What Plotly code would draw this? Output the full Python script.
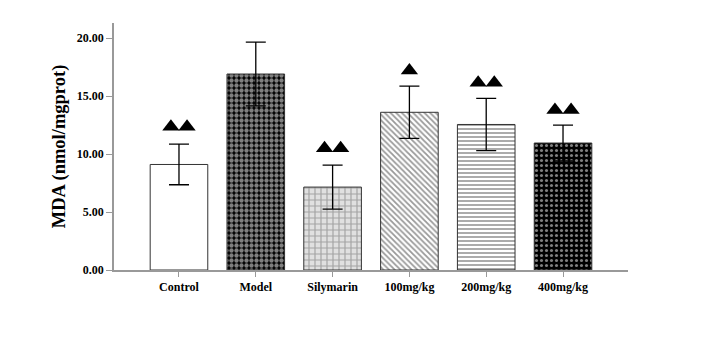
import plotly.graph_objects as go

categories = ["Control", "Model", "Silymarin", "100mg/kg", "200mg/kg", "400mg/kg"]
mda_mean = [9.1, 16.9, 7.15, 13.6, 12.55, 10.95]
mda_sd = [1.75, 2.75, 1.9, 2.25, 2.25, 1.55]
sig_marks = [2, 0, 2, 1, 2, 2]
sig_height = [12.35, 0, 10.5, 17.2, 16.15, 13.8]

patterns = [
    dict(shape="", bgcolor="white"),
    dict(shape=".", fgcolor="white", bgcolor="black", size=5, solidity=0.6),
    dict(shape="+", fgcolor="#666666", bgcolor="#e0e0e0", size=6, solidity=0.35),
    dict(shape="\\", fgcolor="#333333", bgcolor="white", size=4, solidity=0.45),
    dict(shape="-", fgcolor="#444444", bgcolor="white", size=4, solidity=0.45),
    dict(shape=".", fgcolor="white", bgcolor="black", size=5, solidity=0.3),
]

xs = list(range(len(categories)))
fig = go.Figure()
for i in xs:
    fig.add_trace(go.Bar(
        x=[xs[i]], y=[mda_mean[i]], width=0.75,
        marker=dict(color="white", line=dict(color="#333333", width=1), pattern=patterns[i]),
        error_y=dict(type="data", array=[mda_sd[i]], color="black", thickness=1.3, width=10),
        showlegend=False, hoverinfo="skip",
    ))

tx, ty = [], []
off = 0.105
for i in xs:
    n = sig_marks[i]
    if n == 1:
        tx.append(xs[i]); ty.append(sig_height[i])
    elif n == 2:
        tx += [xs[i] - off, xs[i] + off]; ty += [sig_height[i]] * 2
fig.add_trace(go.Scatter(x=tx, y=ty, mode="markers",
                         marker=dict(symbol="triangle-up", size=15, color="black"),
                         showlegend=False, hoverinfo="skip"))

font = "Liberation Serif, Times New Roman, serif"
fig.update_layout(
    width=702, height=351,
    margin=dict(l=114, r=74, t=23, b=81),
    paper_bgcolor="white", plot_bgcolor="white",
    barmode="overlay",
    font=dict(family=font, color="black"),
    xaxis=dict(range=[-0.846, 5.846], tickvals=xs, ticktext=[f"<b>{c}</b>" for c in categories],
               showline=True, linecolor="#999999", linewidth=1.5, ticks="outside", ticklen=5,
               tickcolor="#999999", showgrid=False, zeroline=False,
               tickfont=dict(family=font, size=12, color="black")),
    yaxis=dict(range=[0, 21.3], tickvals=[0, 5, 10, 15, 20],
               ticktext=["<b>0.00</b>", "<b>5.00</b>", "<b>10.00</b>", "<b>15.00</b>", "<b>20.00</b>"],
               showline=True, linecolor="#999999", linewidth=1.5, ticks="outside", ticklen=6,
               tickcolor="#999999", showgrid=False, zeroline=False,
               tickfont=dict(family=font, size=12, color="black"),
               title=dict(text="<b>MDA (nmol/mgprot)</b>", font=dict(family=font, size=18.5, color="black"),
                          standoff=6)),
)
fig.write_html("out.html")
